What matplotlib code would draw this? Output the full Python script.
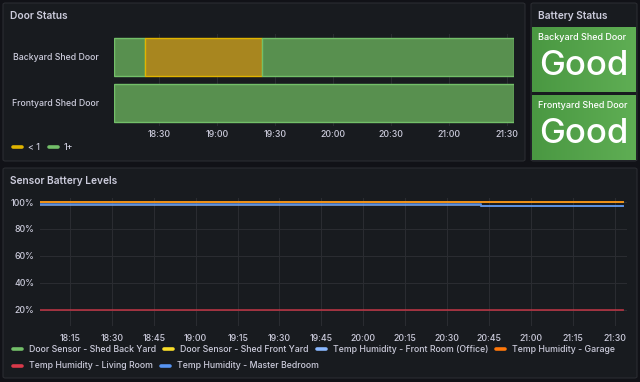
import matplotlib
matplotlib.use("Agg")
import matplotlib.pyplot as plt
import matplotlib.dates as mdates
from matplotlib.patches import FancyBboxPatch
from matplotlib.colors import LinearSegmentedColormap
import numpy as np
import pandas as pd

# ---------------- data ----------------
DAY = "2024-01-01 "
door_rows = ["Backyard Shed Door", "Frontyard Shed Door"]
backyard_starts = ["18:06:40", "18:22:50", "19:23:20"]
backyard_ends = ["18:22:50", "19:23:20", "21:33:40"]
backyard_states = ["1+", "< 1", "1+"]
frontyard_starts = ["18:06:40"]
frontyard_ends = ["21:33:40"]
frontyard_states = ["1+"]
door_tick_labels = ["18:30", "19:00", "19:30", "20:00", "20:30", "21:00", "21:30"]
state_names = ["< 1", "1+"]

battery_names = ["Backyard Shed Door", "Frontyard Shed Door"]
battery_values = ["Good", "Good"]

level_times = ["18:04", "20:42", "21:33"]
series_names = ["Door Sensor - Shed Back Yard", "Door Sensor - Shed Front Yard",
                "Temp Humidity - Front Room (Office)", "Temp Humidity - Garage",
                "Temp Humidity - Living Room", "Temp Humidity - Master Bedroom"]
door_back_yard = [100, 100, 100]
door_front_yard = [100, 100, 100]
front_room_office = [98, 97, 97]
garage = [100, 100, 100]
living_room = [20, 20, 20]
master_bedroom = [98.6, 97.2, 97.2]
level_ticks = ["18:15", "18:30", "18:45", "19:00", "19:15", "19:30", "19:45", "20:00",
               "20:15", "20:30", "20:45", "21:00", "21:15", "21:30"]
y_ticks = [20, 40, 60, 80, 100]

# ---------------- style ----------------
W, H = 640, 382
BG = "#111217"
PANEL = "#181b1f"
BORDER = "#2a2c31"
TXT = "#ccccdc"
GRID = "#2a2c31"
FS = 6.3
plt.rcParams["font.family"] = ["Inter", "DejaVu Sans"]

series_colors = ["#73bf69", "#fade2a", "#8ab8ff", "#ff780a", "#d9394a", "#5794f2"]
state_fill = {"< 1": "#a8861f", "1+": "#58904f"}
state_edge = {"< 1": "#e0b400", "1+": "#73bf69"}
state_legend = {"< 1": "#e0b400", "1+": "#73bf69"}

fig = plt.figure(figsize=(W / 100, H / 100), dpi=100)
fig.patch.set_facecolor(BG)


def fx(x):
    return x / W


def fy(y):
    return 1 - y / H


def ax_px(x0, y0, x1, y1):
    a = fig.add_axes([fx(x0), fy(y1), (x1 - x0) / W, (y1 - y0) / H])
    a.set_zorder(2)
    return a


def panel(x0, y0, x1, y1, title=None):
    p = FancyBboxPatch((fx(x0), fy(y1)), (x1 - x0) / W, (y1 - y0) / H,
                       boxstyle="round,pad=0,rounding_size=0.004",
                       transform=fig.transFigure, facecolor=PANEL,
                       edgecolor=BORDER, linewidth=0.8, zorder=-5)
    fig.patches.append(p)
    if title:
        fig.text(fx(x0 + 7), fy(y0 + 13), title, color=TXT, fontsize=7.3,
                 fontweight="semibold", va="center", ha="left")


def T(s):
    return pd.Timestamp(DAY + s)


panel(3, 3, 525, 161, "Door Status")
panel(531, 3, 637, 161, "Battery Status")
panel(3, 168, 637, 378, "Sensor Battery Levels")

# ---------------- Door Status timeline ----------------
ax = ax_px(114, 34, 514, 126)
ax.set_facecolor("none")
for s in ax.spines.values():
    s.set_visible(False)
rows = [(backyard_starts, backyard_ends, backyard_states),
        (frontyard_starts, frontyard_ends, frontyard_states)]
for i, (st, en, sts) in enumerate(rows):
    ypos = 1 - i
    for a, b, state in zip(st, en, sts):
        a_n = mdates.date2num(T(a))
        b_n = mdates.date2num(T(b))
        ax.barh(ypos, b_n - a_n, left=a_n, height=0.83, color=state_fill[state],
                edgecolor=state_edge[state], linewidth=1.0, zorder=3)
ax.set_xlim(mdates.date2num(T(backyard_starts[0])), mdates.date2num(T(backyard_ends[-1])))
ax.set_ylim(-0.5, 1.5)
ax.set_yticks([1, 0])
ax.set_yticklabels(door_rows)
ticks = [mdates.date2num(T(t)) for t in door_tick_labels]
ax.set_xticks(ticks)
ax.set_xticklabels(door_tick_labels)
ax.tick_params(axis="both", colors=TXT, labelsize=FS, length=0)
ax.tick_params(axis="x", pad=3)
ax.tick_params(axis="y", pad=11)
for lab in ax.get_yticklabels() + ax.get_xticklabels():
    lab.set_fontweight("medium")
ax.grid(axis="x", color=GRID, linewidth=0.8, zorder=0)
ax.set_axisbelow(True)

# door legend
lx = 13
for name in state_names:
    fig.add_artist(plt.Line2D([fx(lx), fx(lx + 9)], [fy(147), fy(147)],
                              color=state_legend[name], linewidth=2.6,
                              solid_capstyle="round", transform=fig.transFigure))
    t = fig.text(fx(lx + 15), fy(147), name, color=TXT, fontsize=FS,
                 fontweight="medium", va="center", ha="left")
    fig.canvas.draw()
    bb = t.get_window_extent()
    lx = bb.x1 + 9

# ---------------- Battery Status stats ----------------
grad = np.linspace(0, 1, 256).reshape(1, -1)
gcm = LinearSegmentedColormap.from_list("g", ["#4a9842", "#5fae54"])
boxes = [(532, 27, 636, 92), (532, 95, 636, 160)]
for (x0, y0, x1, y1), name, val in zip(boxes, battery_names, battery_values):
    bax = ax_px(x0, y0, x1, y1)
    bax.imshow(grad, aspect="auto", cmap=gcm, extent=[0, 1, 0, 1])
    bax.set_axis_off()
    fig.text(fx(x0 + 6), fy(y0 + 11), name, color="white", fontsize=6.5,
             fontweight="medium", va="center", ha="left", zorder=5)
    fig.text(fx(x0 + 7), fy(y0 + 39), val, color="white", fontsize=25,
             fontweight="medium", va="center", ha="left", zorder=5)

# ---------------- Sensor Battery Levels ----------------
lax = ax_px(40, 198, 627, 326)
lax.set_facecolor("none")
for s in lax.spines.values():
    s.set_visible(False)
tnum = [mdates.date2num(T(t)) for t in level_times]
all_series = [door_back_yard, door_front_yard, front_room_office, garage,
              living_room, master_bedroom]
for vals, col in zip(all_series, series_colors):
    lax.step(tnum, vals, where="post", color=col, linewidth=1.3, alpha=0.75, zorder=3)
lax.set_xlim(mdates.date2num(T("18:04:20")), mdates.date2num(T("21:34:20")))
lax.set_ylim(8, 103)
lax.set_yticks(y_ticks)
lax.set_yticklabels([f"{v}%" for v in y_ticks])
lax.set_xticks([mdates.date2num(T(t)) for t in level_ticks])
lax.set_xticklabels(level_ticks)
lax.tick_params(axis="both", colors=TXT, labelsize=FS, length=0)
lax.tick_params(axis="x", pad=6)
lax.tick_params(axis="y", pad=4)
for lab in lax.get_yticklabels() + lax.get_xticklabels():
    lab.set_fontweight("medium")
lax.grid(True, color=GRID, linewidth=0.8, zorder=0)
lax.set_axisbelow(True)

# bottom legend (wrapped into rows)
rows_layout = [[0, 1, 2, 3], [4, 5]]
row_y = [349, 366]
for idxs, yy in zip(rows_layout, row_y):
    lx = 13
    for i in idxs:
        fig.add_artist(plt.Line2D([fx(lx), fx(lx + 9)], [fy(yy), fy(yy)],
                                  color=series_colors[i], linewidth=2.6,
                                  solid_capstyle="round", transform=fig.transFigure))
        t = fig.text(fx(lx + 16), fy(yy), series_names[i], color=TXT, fontsize=FS,
                     fontweight="medium", va="center", ha="left")
        fig.canvas.draw()
        bb = t.get_window_extent()
        lx = bb.x1 + 8

fig.savefig("out.png", dpi=100, facecolor=BG)
